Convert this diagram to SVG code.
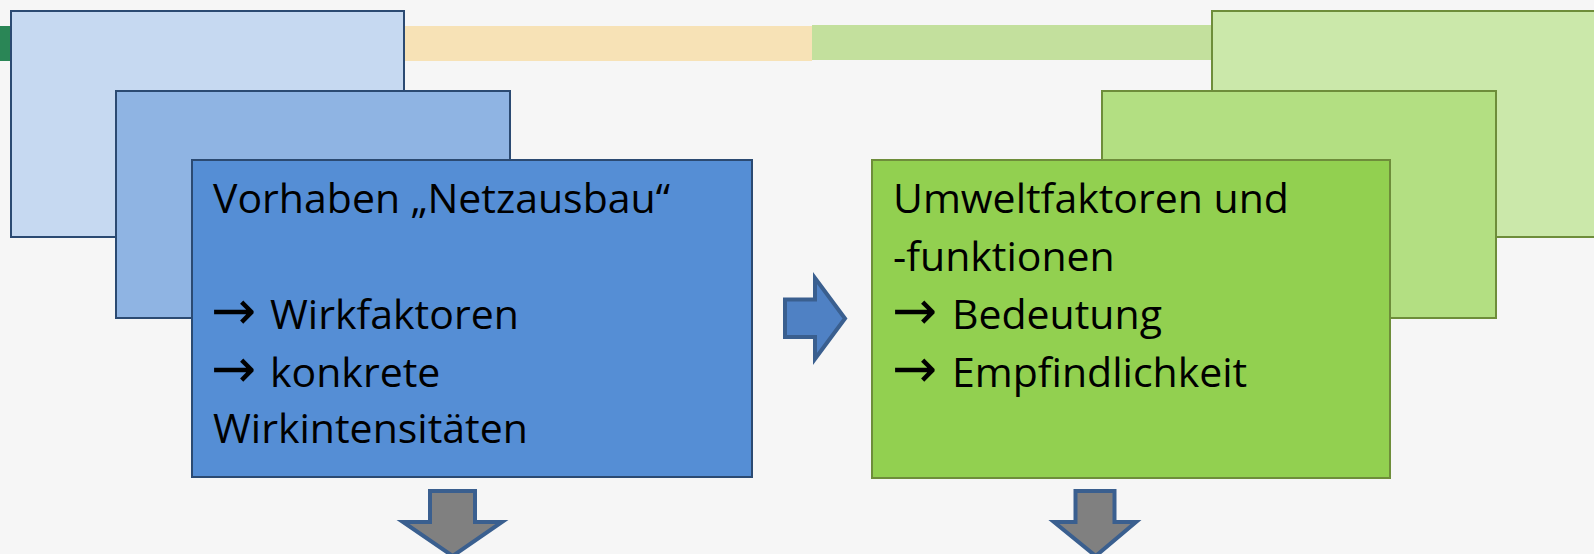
<svg xmlns="http://www.w3.org/2000/svg" width="1594" height="554" viewBox="0 0 1594 554">
<defs>
<style>
.bl{stroke:#2b4a72;stroke-width:2}
.gr{stroke:#6e8d3a;stroke-width:2}
.t{font-family:"Open Sans","Noto Sans",sans-serif;font-size:41px;fill:#000}
.ar{font-family:"DejaVu Sans",sans-serif;font-size:54px}
.blk{stroke:#3a5f8f;stroke-width:4;stroke-linejoin:miter}
</style>
</defs>
<rect width="1594" height="554" fill="#f6f6f6"/>
<g id="bands">
<rect x="0" y="26" width="20" height="35" fill="#2a8656"/>
<rect x="400" y="26" width="412" height="35" fill="#f7e2b6"/>
<rect x="812" y="25" width="402" height="35" fill="#c3e09d"/>
</g>
<g id="blue-back"><rect class="bl" x="11" y="11" width="393" height="226" fill="#c6d9f1"/></g>
<g id="blue-mid"><rect class="bl" x="116" y="91" width="394" height="227" fill="#8fb4e3"/></g>
<g id="blue-front">
<rect class="bl" x="192" y="160" width="560" height="317" fill="#558ed5"/>
<text class="t" x="213" y="213">Vorhaben „Netzausbau“</text>
<text class="t" y="329"><tspan class="ar" x="211">→</tspan><tspan x="270">Wirkfaktoren</tspan></text>
<text class="t" y="387"><tspan class="ar" x="211">→</tspan><tspan x="270">konkrete</tspan></text>
<text class="t" x="213" y="443">Wirkintensitäten</text>
</g>
<g id="green-back"><rect class="gr" x="1212" y="11" width="400" height="226" fill="#cbe8aa"/></g>
<g id="green-mid"><rect class="gr" x="1102" y="91" width="394" height="227" fill="#b3df82"/></g>
<g id="green-front">
<rect class="gr" x="872" y="160" width="518" height="318" fill="#92d050"/>
<text class="t" x="893" y="213">Umweltfaktoren und</text>
<text class="t" x="893" y="271">-funktionen</text>
<text class="t" y="329"><tspan class="ar" x="892">→</tspan><tspan x="952">Bedeutung</tspan></text>
<text class="t" y="387"><tspan class="ar" x="892">→</tspan><tspan x="952">Empfindlichkeit</tspan></text>
</g>
<g id="connectors">
<path class="blk" fill="#4f81c4" d="M785,299.5 H815 V278 L845,318.5 L815,359 V337 H785 Z"/>
<path class="blk" fill="#808080" d="M430,491 H475 V522 H502 L452.7,556 L403,522 H430 Z"/>
<path class="blk" fill="#808080" d="M1075.5,491 H1114.5 V522 H1136 L1095.7,556 L1054,522 H1075.5 Z"/>
</g>
</svg>
